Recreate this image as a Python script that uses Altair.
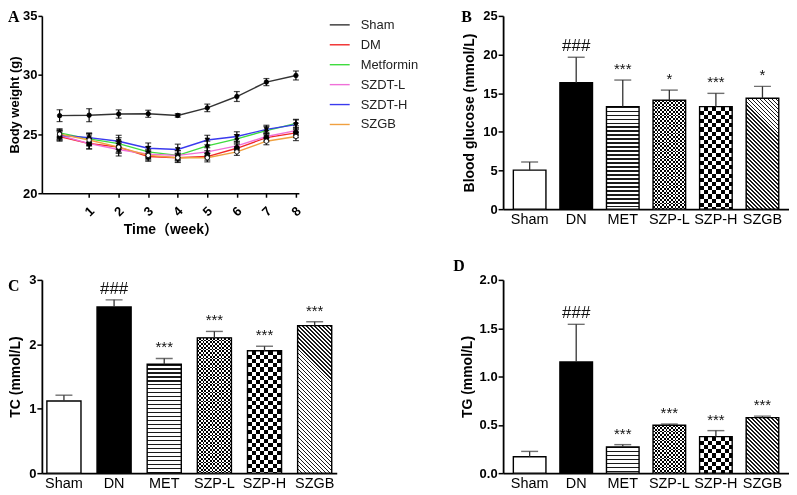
import altair as alt
import pandas as pd

# ---------------- Panel A : body weight ----------------
weeks = [0, 1, 2, 3, 4, 5, 6, 7, 8]
week_ticks = [1, 2, 3, 4, 5, 6, 7, 8]
groups_a = ["Sham", "DM", "Metformin", "SZDT-L", "SZDT-H", "SZGB"]
colors_a = ["#333333", "#f02828", "#3fdc3f", "#f070d8", "#3a3aee", "#f0a040"]
shapes_a = ["circle", "square", "diamond", "triangle-up", "triangle-down", "circle"]
fills_a = ["#000000", "#000000", "#000000", "#000000", "#000000", "#ffffff"]

bw_sham = [26.56, 26.6, 26.7, 26.72, 26.58, 27.22, 28.18, 29.4, 29.96]
bw_sham_err = [0.5, 0.55, 0.35, 0.3, 0.15, 0.32, 0.42, 0.3, 0.38]
bw_dm = [24.8, 24.2, 23.9, 23.1, 23.0, 23.1, 23.8, 24.7, 25.1]
bw_dm_err = [0.4, 0.45, 0.5, 0.4, 0.35, 0.3, 0.35, 0.35, 0.4]
bw_met = [25.1, 24.6, 24.2, 23.5, 23.2, 24.0, 24.6, 25.3, 25.9]
bw_met_err = [0.35, 0.45, 0.5, 0.45, 0.4, 0.4, 0.35, 0.35, 0.35]
bw_szdtl = [24.9, 24.2, 23.7, 23.3, 23.2, 23.5, 24.0, 24.8, 25.3]
bw_szdtl_err = [0.4, 0.45, 0.55, 0.4, 0.4, 0.35, 0.35, 0.35, 0.4]
bw_szdth = [24.9, 24.7, 24.4, 23.8, 23.7, 24.5, 24.8, 25.4, 25.8]
bw_szdth_err = [0.4, 0.4, 0.5, 0.45, 0.45, 0.4, 0.4, 0.35, 0.4]
bw_szgb = [25.0, 24.5, 23.9, 23.2, 23.0, 23.0, 23.5, 24.4, 24.8]
bw_szgb_err = [0.4, 0.5, 0.5, 0.4, 0.4, 0.35, 0.3, 0.3, 0.35]

# ---------------- Panels B, C, D : bars ----------------
cats = ["Sham", "DN", "MET", "SZP-L", "SZP-H", "SZGB"]
glu_mean = [5.05, 16.35, 13.27, 14.08, 13.27, 14.34]
glu_err = [1.05, 3.3, 3.43, 1.32, 1.71, 1.54]
glu_sig = ["", "###", "***", "*", "***", "*"]
tc_mean = [1.12, 2.58, 1.69, 2.10, 1.90, 2.29]
tc_err = [0.09, 0.11, 0.09, 0.10, 0.07, 0.06]
tc_sig = ["", "###", "***", "***", "***", "***"]
tg_mean = [0.17, 1.15, 0.27, 0.495, 0.378, 0.574]
tg_err = [0.055, 0.39, 0.025, 0.013, 0.062, 0.016]
tg_sig = ["", "###", "***", "***", "***", "***"]

FONT = "Liberation Sans, Arial, Noto Sans CJK SC"

series = [bw_sham, bw_dm, bw_met, bw_szdtl, bw_szdth, bw_szgb]
series_err = [bw_sham_err, bw_dm_err, bw_met_err, bw_szdtl_err, bw_szdth_err, bw_szgb_err]
rows = []
for g, vals, errs in zip(groups_a, series, series_err):
    for w, v, e in zip(weeks, vals, errs):
        rows.append({"group": g, "week": w, "bw": v, "err": e})
df_a = pd.DataFrame(rows)

A_W, A_H = 258, 178

xsc_a = alt.Scale(domain=[-0.6, 8.1], nice=False, zero=False)
xax_a = alt.Axis(values=week_ticks, labelAngle=-45, labelAlign="center",
                 labelBaseline="middle", labelPadding=14, tickSize=4,
                 labelOverlap=False, labelFontSize=13, title="Time（week）",
                 titlePadding=4, titleFontSize=14)
ysc_a = alt.Scale(domain=[20, 35], nice=False, zero=False)
yax_a = alt.Axis(values=[20, 25, 30, 35], tickSize=4, labelPadding=1,
                 labelFontSize=13, title="Body weight (g)", titlePadding=1,
                 titleFontSize=13)
xa = alt.X("week:Q", scale=xsc_a, axis=xax_a)

base_a = alt.Chart(df_a).transform_calculate(
    lo="datum.bw - datum.err", hi="datum.bw + datum.err")
lines_a = base_a.mark_line(strokeWidth=1.4).encode(
    x=xa, y=alt.Y("bw:Q", scale=ysc_a, axis=yax_a),
    color=alt.Color("group:N", scale=alt.Scale(domain=groups_a, range=colors_a),
                    legend=alt.Legend(orient="none", legendX=288, legendY=-2, title=None,
                                      symbolType="stroke", symbolSize=400,
                                      symbolStrokeWidth=1.4, labelFont=FONT,
                                      labelFontSize=13, labelColor="#222222",
                                      labelOffset=10, rowPadding=2, padding=0)))
err_a = base_a.mark_rule(color="#000000", strokeWidth=1.2).encode(
    x=xa, y=alt.Y("lo:Q", scale=ysc_a, axis=yax_a), y2="hi:Q")
cap_lo = base_a.mark_tick(orient="horizontal", size=6, thickness=1.2, color="#000000").encode(
    x=xa, y=alt.Y("lo:Q", scale=ysc_a, axis=yax_a))
cap_hi = base_a.mark_tick(orient="horizontal", size=6, thickness=1.2, color="#000000").encode(
    x=xa, y=alt.Y("hi:Q", scale=ysc_a, axis=yax_a))
pts_layers = []
for g, shp, fl in zip(groups_a, shapes_a, fills_a):
    pts_layers.append(
        base_a.transform_filter(alt.datum.group == g).mark_point(
            filled=True, shape=shp, size=20, fill=fl, stroke="#000000",
            strokeWidth=0.8, opacity=1).encode(
            x=xa, y=alt.Y("bw:Q", scale=ysc_a, axis=yax_a)))


def letter(t, lx, ly):
    return alt.Chart(alt.Data(values=[{"t": t}])).mark_text(
        align="left", baseline="top", font="Liberation Serif", fontWeight="bold",
        fontSize=16, color="#000000").encode(text="t:N", x=alt.value(lx), y=alt.value(ly))


panel_a = alt.layer(lines_a, err_a, cap_lo, cap_hi, *pts_layers, letter("A", -34, -7)).properties(
    width=A_W, height=A_H)


# ---------------- gradient patterns ----------------
def stripe_stops(length, period, dark, c_dark, c_light):
    stops = []
    pos = 0.0
    while pos < length - 1e-6:
        a = pos / length
        b = min(pos + dark, length) / length
        c = min(pos + period, length) / length
        stops += [{"offset": round(a, 5), "color": c_dark},
                  {"offset": round(b, 5), "color": c_dark},
                  {"offset": round(b, 5), "color": c_light},
                  {"offset": round(c, 5), "color": c_light}]
        pos += period
    return stops


def hgrad(H, period, dark, cd="#000000", cl="#ffffff"):
    return {"gradient": "linear", "x1": 0, "y1": 0, "x2": 0, "y2": 1,
            "stops": stripe_stops(H, period, dark, cd, cl)}


def vgrad(W, period, dark, cd="#000000", cl="#ffffff"):
    return {"gradient": "linear", "x1": 0, "y1": 0, "x2": 1, "y2": 0,
            "stops": stripe_stops(W, period, dark, cd, cl)}


def dgrad(W, H, period, dark, cd="#000000", cl="#ffffff"):
    k = (W + H) / (W * W + H * H)
    return {"gradient": "linear", "x1": 0, "y1": 1, "x2": round(k * W, 6), "y2": round(1 - k * H, 6),
            "stops": stripe_stops(W + H, period, dark, cd, cl)}


def bar_panel(means, errs, sigs, ymax, yticks, yfmt, ytitle, let, lx, ly,
              pad_in, pad_out, width, height, title_pad):
    df = pd.DataFrame({"group": cats, "mean": means, "err": errs, "sig": sigs})
    step = width / (len(cats) - pad_in + 2 * pad_out)
    bwid = step * (1 - pad_in)
    hpx = {g: m / ymax * height for g, m in zip(cats, means)}

    x = alt.X("group:N", sort=cats,
              scale=alt.Scale(domain=cats, paddingInner=pad_in, paddingOuter=pad_out),
              axis=alt.Axis(title=None, ticks=False, labelAngle=0, labelFontSize=14.5,
                            labelFontWeight="normal", labelPadding=3, domainWidth=1.8))
    yax = alt.Axis(values=yticks, format=yfmt, title=ytitle, tickSize=5, labelPadding=1,
                   labelFontSize=13, titleFontSize=14, titlePadding=title_pad, domainWidth=1.8)
    ysc = alt.Scale(domain=[0, ymax], nice=False)
    y = alt.Y("mean:Q", scale=ysc, axis=yax)
    yhi = alt.Y("hi:Q", scale=ysc, axis=yax)

    base = alt.Chart(df).transform_calculate(hi="datum.mean + datum.err").encode(x=x)

    def one(g, fill, **kw):
        return base.transform_filter(alt.datum.group == g).mark_bar(
            fill=fill, strokeWidth=0, **kw).encode(y=y)

    layers = [
        one("Sham", "#ffffff"),
        one("DN", "#000000"),
        one("MET", hgrad(hpx["MET"], 4.0, 1.3, "#1a1a1a", "#ffffff")),
        one("SZP-L", hgrad(hpx["SZP-L"], 3.6, 1.8)),
        one("SZP-L", vgrad(bwid, 3.6, 1.8, "#ffffff", "#000000"), blend="difference"),
        one("SZP-H", hgrad(hpx["SZP-H"], 8.4, 4.2)),
        one("SZP-H", vgrad(bwid, 8.4, 4.2, "#ffffff", "#000000"), blend="difference"),
        one("SZGB", dgrad(bwid, hpx["SZGB"], 4.0, 1.4, "#1a1a1a", "#ffffff")),
        base.mark_bar(fillOpacity=0, stroke="#000000", strokeWidth=1.4).encode(y=y),
        base.mark_rule(color="#333333", strokeWidth=1.3).encode(y=y, y2="hi:Q"),
        base.mark_tick(orient="horizontal", size=17, thickness=1.4, color="#333333").encode(y=yhi),
        base.transform_filter("datum.sig == '###'").mark_text(
            font=FONT, fontSize=17, baseline="alphabetic", dy=-6, color="#111111").encode(
            y=yhi, text="sig:N"),
        base.transform_filter("datum.sig != '' && datum.sig != '###'").mark_text(
            font=FONT, fontSize=15, baseline="alphabetic", dy=-6, color="#111111").encode(
            y=yhi, text="sig:N"),
        letter(let, lx, ly),
    ]
    return alt.layer(*layers).properties(width=width, height=height)


panel_b = bar_panel(glu_mean, glu_err, glu_sig, 25, [0, 5, 10, 15, 20, 25], "d",
                    "Blood glucose (mmol/L)", "B", -42, -7, 0.3, 0.22, 287, 194, 6)
panel_c = bar_panel(tc_mean, tc_err, tc_sig, 3, [0, 1, 2, 3], "d",
                    "TC (mmol/L)", "C", -34, -2, 0.32, 0.1, 296, 194, 6)
panel_d = bar_panel(tg_mean, tg_err, tg_sig, 2, [0, 0.5, 1.0, 1.5, 2.0], ".1f",
                    "TG (mmol/L)", "D", -50, -22, 0.3, 0.22, 287, 194, 5)

chart = alt.concat(panel_a, panel_b, panel_c, panel_d, columns=2,
                   spacing={"row": 71, "column": 167}, bounds="flush").properties(
    padding=0
).configure_view(stroke=None).configure_axis(
    grid=False, domainColor="#000000", domainWidth=1.6, tickColor="#000000", tickWidth=1.5,
    labelColor="#000000", titleColor="#000000", labelFont=FONT, titleFont=FONT,
    labelFontWeight="bold", titleFontWeight="bold"
)

chart.save("out.html", embed_options={"renderer": "svg", "actions": False})
